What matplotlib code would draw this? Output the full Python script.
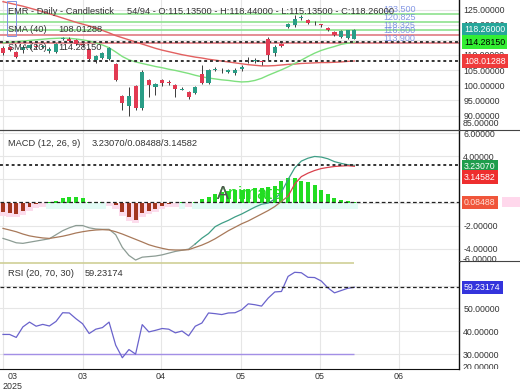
import numpy as np
import matplotlib
matplotlib.use('Agg')
import matplotlib.pyplot as plt
import matplotlib.transforms as mtransforms
from matplotlib.lines import Line2D
from matplotlib.patches import Rectangle

plt.rcParams['font.family'] = ['Liberation Sans', 'DejaVu Sans']
plt.rcParams['font.size'] = 6.5

W, H = 520, 390

# --- price data (54 of 94 daily candles) ---
opens = [112.3, 112.6, 111.0, 111.6, 112.3, 113.0, 112.5, 111.3, 111.0, 115.3,
         115.3, 114.9, 113.4, 112.0, 108.3, 109.0, 108.7, 107.0, 96.5, 93.2,
         99.8, 92.5, 101.7, 99.4, 101.7, 101.1, 100.1, 98.6, 97.8, 97.4,
         103.7, 100.8, 105.0, 105.2, 104.5, 104.0, 105.5, 108.2, 107.9, 107.8,
         115.3, 110.6, 113.6, 119.2, 119.9, 122.2, 121.5, 120.4, 119.9, 118.9,
         117.6, 115.9, 115.6, 115.135]
highs = [113.0, 113.0, 111.3, 113.3, 113.6, 113.5, 113.4, 112.6, 114.0, 116.0,
         115.9, 115.3, 113.8, 112.3, 110.0, 111.0, 112.6, 107.3, 96.8, 99.4,
         100.1, 105.0, 102.1, 100.8, 102.1, 101.7, 100.4, 99.4, 98.1, 99.8,
         106.7, 105.4, 106.0, 105.7, 105.4, 105.7, 106.7, 109.3, 109.0, 108.3,
         115.9, 113.3, 113.9, 120.6, 123.2, 123.2, 121.9, 121.2, 120.2, 119.2,
         117.9, 118.2, 118.4, 118.44]
lows = [110.0, 111.3, 109.0, 110.6, 112.0, 112.0, 112.2, 110.6, 110.8, 115.0,
        114.3, 113.3, 112.8, 108.3, 107.3, 108.6, 108.3, 101.4, 91.8, 89.9,
        91.8, 91.8, 96.1, 96.8, 99.8, 100.1, 96.1, 98.4, 95.5, 97.1,
        100.4, 100.4, 104.7, 104.0, 104.0, 103.4, 104.7, 107.3, 107.3, 106.7,
        108.3, 109.7, 112.6, 118.9, 119.2, 121.5, 120.2, 119.9, 119.2, 117.9,
        116.3, 115.6, 115.3, 115.135]
closes = [110.7, 111.6, 109.3, 112.6, 113.3, 112.5, 113.0, 112.0, 113.6, 115.6,
          114.6, 113.6, 113.2, 108.7, 109.7, 110.7, 112.3, 101.7, 94.1, 96.5,
          92.5, 104.4, 100.1, 100.4, 100.8, 100.6, 98.8, 98.8, 96.1, 99.4,
          100.8, 105.0, 105.4, 104.9, 104.9, 105.0, 105.9, 108.5, 108.3, 107.6,
          110.0, 112.6, 113.0, 120.2, 121.9, 122.3, 120.6, 120.7, 119.8, 118.3,
          116.6, 117.9, 118.2, 118.26]
sma40 = [127.6, 127.1, 126.6, 126.1, 125.5, 124.9, 124.3, 123.6, 122.9, 122.2,
         121.5, 120.8, 120.2, 119.6, 118.9, 118.1, 117.3, 116.4, 115.7, 115.0,
         114.3, 113.6, 112.9, 112.2, 111.6, 111.1, 110.6, 110.1, 109.7, 109.3,
         109.0, 108.6, 108.3, 108.0, 107.7, 107.4, 107.1, 106.8, 106.6, 106.4,
         106.4, 106.5, 106.7, 106.9, 107.0, 107.2, 107.3, 107.4, 107.5, 107.5,
         107.6, 107.7, 107.9, 108.01288]
sma20 = [114.0, 114.2, 114.4, 114.6, 114.8, 115.0, 115.2, 115.4, 115.5, 115.6,
         115.5, 115.3, 115.0, 114.6, 114.0, 113.3, 112.4, 111.0, 109.5, 108.4,
         107.7, 107.2, 106.7, 106.2, 105.8, 105.3, 104.9, 104.4, 103.9, 103.3,
         102.8, 102.4, 102.1, 101.8, 101.6, 101.3, 101.1, 101.2, 101.6, 102.3,
         103.3, 104.2, 105.1, 106.1, 107.2, 108.3, 109.5, 110.6, 111.5, 112.2,
         112.8, 113.5, 113.9, 114.2815]

# horizontal levels drawn on the price panel
levels = [123.5, 120.825, 118.325, 116.6, 113.9]
level_labels = ['123.500', '120.825', '118.325', '116.600', '113.900']

# --- MACD (12, 26, 9) ---
macd = [-3.12, -3.3, -3.5, -3.55, -3.45, -3.35, -3.25, -3.15, -2.8, -2.45,
        -2.2, -2.0, -2.0, -2.2, -2.3, -2.33, -2.33, -2.8, -3.9, -4.6,
        -5.0, -4.75, -4.7, -4.65, -4.55, -4.4, -4.25, -4.15, -4.05, -3.6,
        -3.1, -2.7, -2.1, -1.8, -1.55, -1.25, -1.0, -0.7, -0.4, -0.15,
        -0.05, 0.3, 0.9, 2.0, 3.0, 3.6, 3.85, 4.0, 3.95, 3.8,
        3.55, 3.4, 3.28, 3.2307]
signal = [-2.25, -2.39, -2.54, -2.74, -2.9, -3.0, -3.08, -3.12, -3.03, -2.93,
          -2.8, -2.65, -2.54, -2.45, -2.39, -2.36, -2.39, -2.54, -2.74, -2.97,
          -3.2, -3.43, -3.67, -3.84, -3.98, -4.1, -4.13, -4.13, -4.1, -3.9,
          -3.7, -3.45, -3.15, -2.8, -2.45, -2.15, -1.85, -1.6, -1.3, -1.0,
          -0.7, -0.35, 0.1, 0.55, 1.6, 2.25, 2.55, 2.78, 2.95, 3.05,
          3.13, 3.17, 3.2, 3.14582]
hist = [-0.84, -0.93, -0.98, -0.75, -0.4, -0.17, -0.05, 0.05, 0.1, 0.35,
        0.5, 0.5, 0.35, 0.05, 0.02, 0.02, -0.02, -0.25, -0.84, -1.27,
        -1.5, -0.93, -0.7, -0.55, -0.27, -0.1, -0.05, 0.02, -0.05, 0.05,
        0.3, 0.5, 0.7, 0.9, 1.0, 1.1, 1.1, 1.2, 1.25, 1.3,
        1.35, 1.45, 1.9, 2.1, 2.15, 1.9, 1.75, 1.5, 1.1, 0.7,
        0.4, 0.2, 0.12, 0.08488]

# --- RSI (20, 70, 30) ---
rsi = [38.6, 38.6, 37.3, 41.9, 44.0, 42.2, 43.0, 42.3, 44.3, 48.1,
       48.0, 45.5, 43.3, 39.0, 40.9, 41.6, 44.0, 33.9, 28.4, 32.0,
       30.0, 42.9, 39.7, 40.4, 41.2, 40.9, 39.3, 40.1, 38.0, 42.2,
       43.6, 48.0, 47.7, 47.3, 48.0, 48.1, 49.4, 52.0, 51.6, 51.0,
       54.5, 57.2, 57.4, 64.0, 65.8, 65.6, 63.6, 63.5, 62.0, 59.0,
       56.8, 57.8, 58.8, 59.23174]

tick_pos = [0, 12, 23.8, 35.9, 47.8, 59.7]
tick_labels = ['03\n2025', '03', '04', '05', '05', '06']

GREEN = '#2a9d86'
RED = '#e23a52'
TXT = '#333333'


def px(x, y):
    return x / W, 1 - y / H


def panel(top, bottom, **kw):
    return fig.add_axes([0, 1 - bottom / H, 459 / W, (bottom - top) / H], **kw)


def style(ax, yticks):
    for s in ['left', 'top', 'bottom']:
        ax.spines[s].set_visible(False)
    ax.spines['right'].set_color('#111111')
    ax.spines['right'].set_linewidth(1.0)
    ax.yaxis.tick_right()
    ax.set_yticks(yticks)
    ax.yaxis.set_major_formatter(matplotlib.ticker.FormatStrFormatter('%.5f'))
    ax.tick_params(axis='y', length=0, pad=3, labelsize=6.3, labelcolor=TXT)
    ax.tick_params(axis='x', length=0, labelbottom=False)
    ax.grid(True, color='#e6e6e6', lw=0.8)
    ax.set_axisbelow(True)


def tag(ax, y, text, fc, tc):
    tr = mtransforms.offset_copy(ax.get_yaxis_transform(), fig=fig, x=5, y=0, units='dots')
    ax.text(1.0, y, text, transform=tr, ha='left', va='center', fontsize=6.3,
            color=tc, clip_on=False, zorder=10,
            bbox=dict(boxstyle='square,pad=0.25', fc=fc, ec='none'))


fig = plt.figure(figsize=(W / 100, H / 100), dpi=100)
idx = np.arange(len(closes))
xlim = (-0.45, 68.78)

# ---------------- price panel ----------------
ax1 = panel(0, 130)
style(ax1, [90, 95, 100, 105, 110, 115, 120, 125])
ax1.set_xlim(*xlim)
ax1.set_ylim(85.24, 128.15)
ax1.set_xticks(tick_pos)

for lv, lab, c in zip(levels, level_labels, ['#8ee28e', '#8ee28e', '#8ee28e', '#e07a82', '#e07a82']):
    ax1.axhline(lv, color=c, lw=1.2, zorder=2)
    ax1.text(57.3, lv, lab, color='#6f86e0', fontsize=6.5, alpha=0.85,
             va='bottom', ha='left', zorder=2)

ax1.plot(idx, sma40, color='#e26060', lw=1.0, zorder=3)
ax1.plot(idx, sma20, color='#7ee07e', lw=1.0, zorder=3)
ax1.axhline(sma20[-1], color='#333333', lw=1.4, ls=(0, (1.5, 1.5)), zorder=3)
ax1.axhline(sma40[-1], color='#333333', lw=1.4, ls=(0, (1.5, 1.5)), zorder=3)

o = np.array(opens)
c = np.array(closes)
cols = np.where(c >= o, GREEN, RED)
ax1.vlines(idx, lows, highs, color='#3a3a3a', lw=0.7, zorder=4)
ax1.bar(idx, np.maximum(np.abs(c - o), 0.3), bottom=np.minimum(o, c), width=0.62,
        color=cols, zorder=5)

tag(ax1, closes[-1], '118.26000', '#26a69a', 'white')
tag(ax1, sma20[-1], '114.28150', '#33ee33', 'black')
tag(ax1, sma40[-1], '108.01288', '#ef3b3b', 'white')

# ---------------- MACD panel ----------------
ax2 = panel(130, 262)
style(ax2, [-4, -2, 0, 2, 4, 6])
ax2.spines['top'].set_visible(True)
ax2.spines['top'].set_color('#444444')
ax2.set_xlim(*xlim)
ax2.set_ylim(-5.17, 6.30)
ax2.set_xticks(tick_pos)

h = np.array(hist)
neg = h < 0
ax2.bar(idx[neg], h[neg] - 0.3, width=1.0, color='#fcdcec', zorder=1)
ax2.bar(idx[~neg], -0.55 * np.ones((~neg).sum()), width=1.0, color='#e2fbf5', zorder=1)
ax2.bar(idx, h, width=0.6, color=np.where(neg, '#a3361f', '#22dd22'), zorder=3)

split_m, split_s = 29, 43
ax2.plot(idx[:split_m + 1], macd[:split_m + 1], color='#8c9c94', lw=0.9, zorder=4)
ax2.plot(idx[split_m:], macd[split_m:], color='#3f9e86', lw=0.9, zorder=4)
ax2.plot(idx[:split_s + 1], signal[:split_s + 1], color='#a8795a', lw=0.9, zorder=4)
ax2.plot(idx[split_s:], signal[split_s:], color='#d9404c', lw=0.9, zorder=4)

ax2.axhline(macd[-1], color='#333333', lw=1.4, ls=(0, (1.5, 1.5)), zorder=5)
ax2.axhline(hist[-1], color='#222222', lw=0.9, ls=(0, (3, 2)), zorder=5)

tag(ax2, 3.1, '3.23070', '#1f9d4c', 'white')
tag(ax2, 2.2, '3.14582', '#ee2e2e', 'white')
tag(ax2, 0.0, '0.08488', '#f0553a', '#ffe0d6')

# ---------------- RSI panel ----------------
ax3 = panel(262, 369)
style(ax3, [30, 40, 50, 60])
ax3.spines['bottom'].set_visible(True)
ax3.spines['bottom'].set_color('#111111')
ax3.set_xlim(*xlim)
ax3.set_ylim(23.48, 70.3)
ax3.set_xticks(tick_pos, tick_labels)
ax3.tick_params(axis='x', length=0, pad=2, labelbottom=True, labelsize=6.4, labelcolor=TXT)
first = ax3.get_xticklabels()[0]
first.set_ha('left')
first.set_multialignment('center')

ax3.hlines([70], idx[0] - 0.45, idx[-1], color='#cfcf96', lw=1.2, zorder=3)
ax3.hlines([30], idx[0], idx[-1], color='#a38fe6', lw=1.0, zorder=3)
ax3.plot(idx, rsi, color='#6a63cc', lw=0.9, zorder=4)
ax3.axhline(rsi[-1], color='#222222', lw=0.9, ls=(0, (3, 2)), zorder=5)
tag(ax3, rsi[-1], '59.23174', '#3434dc', 'white')

# ---------------- figure-level decorations ----------------
fig.add_artist(Line2D([0, 1], [1 - 130 / H] * 2, transform=fig.transFigure, color='#444444', lw=0.8))
fig.add_artist(Line2D([459 / W, 1], [1 - 261 / H] * 2, transform=fig.transFigure, color='#444444', lw=0.8))
fig.add_artist(Rectangle(px(502, 207), 18 / W, 10 / H, transform=fig.transFigure,
                         fc='#ffd8ec', ec='none'))
fig.add_artist(Rectangle(px(7, 36), 9 / W, 35 / H, transform=fig.transFigure,
                         fc='none', ec='#7f93e2', lw=0.7))

fig.text(*px(463, 123), '85.00000', fontsize=6.3, color=TXT, va='center')
fig.text(*px(463, 260), '-6.00000', fontsize=6.3, color=TXT, va='center')
t20 = fig.text(*px(463, 367), '20.00000', fontsize=6.3, color=TXT, va='center')
t20.set_clip_box(mtransforms.Bbox.from_extents(459, H - 369, W, H - 340))
t20.set_clip_on(True)

lab = dict(fontsize=6.7, color=TXT, va='center')
fig.text(*px(8, 12), 'EMR - Daily - Candlestick', **lab)
fig.text(*px(127, 12), '54/94 - O:115.13500 - H:118.44000 - L:115.13500 - C:118.26000', **lab)
fig.text(*px(8, 30), 'SMA (40)', **lab)
fig.text(*px(58, 30), '108.01288', **lab)
fig.text(*px(8, 47), 'SMA (20)', **lab)
fig.text(*px(58, 47), '114.28150', **lab)
fig.text(*px(8, 143), 'MACD (12, 26, 9)', **lab)
fig.text(*px(92, 143), '3.23070/0.08488/3.14582', **lab)
fig.text(*px(8, 274), 'RSI (20, 70, 30)', **lab)
fig.text(*px(85, 274), '59.23174', **lab)

fig.text(*px(217, 199), 'Animate', fontsize=13, color='#22dd22', va='baseline')
fig.text(*px(217, 199), 'A', fontsize=13, color='#555555', va='baseline')

fig.savefig('out.png', dpi=100)
